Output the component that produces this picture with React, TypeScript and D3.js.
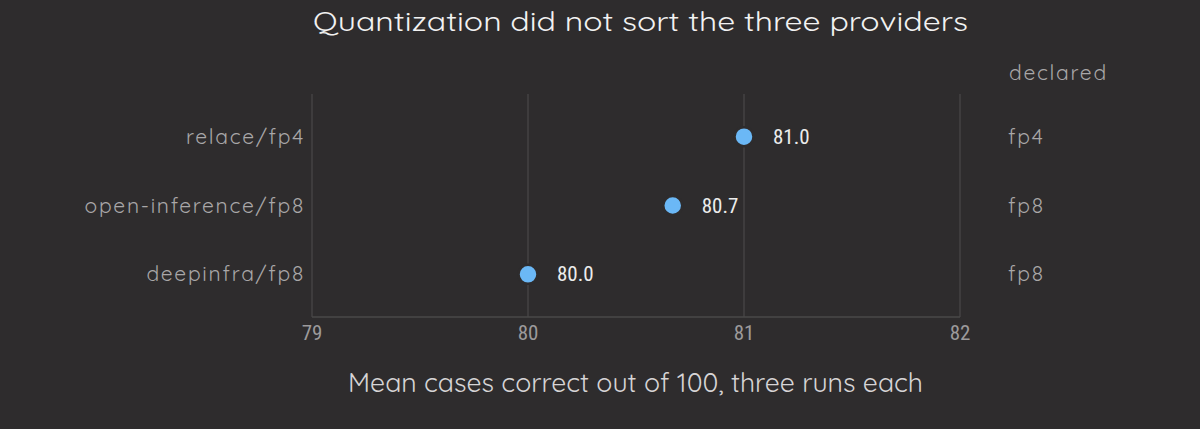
import { useRef, useEffect } from 'react';
import * as d3 from 'd3';

const providers = ["relace/fp4", "open-inference/fp8", "deepinfra/fp8"];
const declared = ["fp4", "fp8", "fp8"];
const meanCorrect = [81.0, 80.67, 80.0];
const xTicks = [79, 80, 81, 82];

const TITLE = "Quantization did not sort the three providers";
const X_TITLE = "Mean cases correct out of 100, three runs each";
const RIGHT_HEADER = "declared";

const W = 1200;
const H = 429;
const BG = "#2e2c2d";
const FONT = "Quicksand, 'Noto Sans', Lato, sans-serif";
const NUM_FONT = "'Liberation Sans Narrow', 'Roboto Condensed', Roboto, sans-serif";

export default function App() {
    const ref = useRef<SVGSVGElement | null>(null);

    useEffect(() => {
        document.body.style.margin = "0";
        document.body.style.background = BG;

        const svg = d3.select(ref.current);
        svg.selectAll("*").remove();

        const left = 312, right = 960, top = 94, bottom = 317;

        const x = d3.scaleLinear().domain([79, 82]).range([left, right]);
        const y = d3.scalePoint<string>().domain(providers).range([top, bottom]).padding(0.62);

        svg.append("rect").attr("width", W).attr("height", H).attr("fill", BG);

        // title
        svg.append("text")
            .attr("x", 313).attr("y", 31)
            .attr("textLength", 655)
            .attr("lengthAdjust", "spacingAndGlyphs")
            .style("font-family", FONT)
            .style("font-size", "27px")
            .attr("fill", "#f2f2f2")
            .text(TITLE);

        // gridlines
        svg.append("g").selectAll("line")
            .data(xTicks)
            .enter()
            .append("line")
                .attr("x1", (d) => x(d)).attr("x2", (d) => x(d))
                .attr("y1", top).attr("y2", bottom)
                .attr("stroke", "#4a4849")
                .attr("stroke-width", 1.2);

        // bottom axis line
        svg.append("line")
            .attr("x1", left).attr("x2", right)
            .attr("y1", bottom).attr("y2", bottom)
            .attr("stroke", "#4a4849")
            .attr("stroke-width", 1.5);

        // tick labels
        svg.append("g").selectAll("text")
            .data(xTicks)
            .enter()
            .append("text")
                .attr("x", (d) => x(d))
                .attr("y", 340)
                .attr("text-anchor", "middle")
                .style("font-family", NUM_FONT)
                .style("font-size", "21px")
                .attr("fill", "#9c9a9b")
                .text((d) => d3.format("d")(d));

        // axis title
        svg.append("text")
            .attr("x", 348).attr("y", 392)
            .attr("textLength", 575)
            .attr("lengthAdjust", "spacingAndGlyphs")
            .style("font-family", FONT)
            .style("font-size", "26px")
            .attr("fill", "#d6d4d5")
            .text(X_TITLE);

        const labelStyle = (sel: any) => sel
            .style("font-family", FONT)
            .style("font-size", "21px")
            .style("letter-spacing", "1.7px")
            .attr("fill", "#a9a7a8");

        // left category labels
        svg.append("g").selectAll("text")
            .data(providers)
            .enter()
            .append("text")
                .attr("x", 305)
                .attr("y", (d) => (y(d) ?? 0) + 7)
                .attr("text-anchor", "end")
                .call(labelStyle)
                .text((d) => d);

        // right header + declared labels
        svg.append("text")
            .attr("x", 1009).attr("y", 80)
            .call(labelStyle)
            .text(RIGHT_HEADER);

        svg.append("g").selectAll("text")
            .data(providers)
            .enter()
            .append("text")
                .attr("x", 1008)
                .attr("y", (d) => (y(d) ?? 0) + 7)
                .call(labelStyle)
                .text((d, i) => declared[i]);

        // dots
        svg.append("g").selectAll("circle")
            .data(providers)
            .enter()
            .append("circle")
                .attr("cx", (d, i) => x(meanCorrect[i]))
                .attr("cy", (d) => y(d) ?? 0)
                .attr("r", 9.5)
                .attr("fill", "#6bb8f6")
                .attr("stroke", BG)
                .attr("stroke-width", 2.5);

        // value labels
        svg.append("g").selectAll("text")
            .data(providers)
            .enter()
            .append("text")
                .attr("x", (d, i) => x(meanCorrect[i]) + 29)
                .attr("y", (d) => (y(d) ?? 0) + 7)
                .style("font-family", NUM_FONT)
                .style("font-size", "21px")
                .attr("fill", "#ececec")
                .text((d, i) => d3.format(".1f")(meanCorrect[i]));
    }, []);

    return (
        <svg ref={ref} width={W} height={H} style={{ display: "block" }} />
    );
}
